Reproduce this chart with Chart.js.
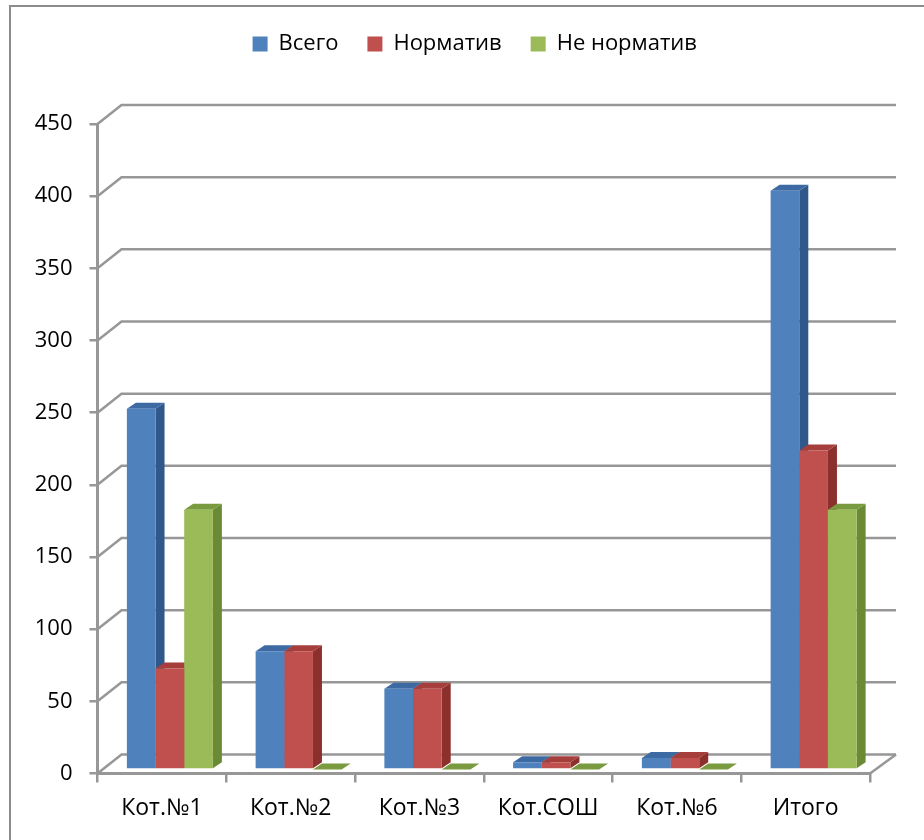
<!DOCTYPE html>
<html>
<head>
<meta charset="utf-8">
<title>Котельные</title>
<script src="https://cdn.jsdelivr.net/npm/chart.js@4"></script>
<style>
  html, body { margin: 0; padding: 0; background: #fff; overflow: hidden; }
  #wrap { position: relative; width: 924px; height: 840px; }
  #frame { position: absolute; left: 9px; top: 5px; width: 2000px; height: 2000px; border: 2px solid #8c8c8c; }
  canvas { position: absolute; left: 0; top: 0; }
</style>
</head>
<body>
<div id="wrap">
  <div id="frame"></div>
  <canvas id="myChart" width="924" height="840"></canvas>
</div>
<script>
// данные по котельным
const kotelnye = ['Кот.№1', 'Кот.№2', 'Кот.№3', 'Кот.СОШ', 'Кот.№6', 'Итого'];
const vsego = [250, 82, 56, 5, 8, 401];
const normativ = [70, 82, 56, 5, 8, 221];
const neNormativ = [180, 0, 0, 0, 0, 180];
const yTicks = [0, 50, 100, 150, 200, 250, 300, 350, 400, 450];

const frontColors = ['#4f81bd', '#c0504d', '#9bbb59'];
const sideColors = ['#30588a', '#8c302d', '#6b8a35'];
const topColors = ['#3d6aa3', '#a63f3c', '#7a9a3f'];

// псевдо-3D: задняя стенка и глубина столбиков
const DX = 24, DY = -19;   // смещение стенки
const BX = 9, BY = -6;     // глубина столбика
const SX = 8, SY = -4;     // столбики стоят чуть глубже переднего края

const fnt = 'Open Sans';

const obyom = {
  id: 'obyom',
  afterLayout(chart) {
    // легенда вверху, над стенкой
    const lg = chart.legend;
    lg.left -= 9;
    lg.right -= 9;
    lg.top = 4;
    lg.bottom = 4 + lg.height;
  },
  beforeDatasetsDraw(chart) {
    const ctx = chart.ctx;
    const a = chart.chartArea;
    const y = chart.scales.y;
    ctx.save();
    ctx.strokeStyle = '#979797';
    ctx.lineWidth = 2.5;
    y.ticks.forEach(t => {
      const py = y.getPixelForValue(t.value);
      ctx.beginPath();
      ctx.moveTo(a.left, py);
      ctx.lineTo(a.left + DX, py + DY);
      ctx.lineTo(a.right + 26, py + DY);
      ctx.stroke();
    });
    ctx.beginPath();
    ctx.moveTo(a.right, a.bottom);
    ctx.lineTo(a.right + 26, a.bottom + DY);
    ctx.stroke();
    ctx.restore();

    // боковые и верхние грани, слева направо
    ctx.save();
    ctx.translate(SX, SY);
    const metas = chart.getSortedVisibleDatasetMetas();
    for (let i = 0; i < kotelnye.length; i++) {
      metas.forEach((m, k) => {
        const b = m.data[i].getProps(['x', 'y', 'base', 'width'], true);
        const x1 = b.x - b.width / 2, x2 = b.x + b.width / 2;
        ctx.fillStyle = sideColors[k];
        ctx.beginPath();
        ctx.moveTo(x2, b.y);
        ctx.lineTo(x2 + BX, b.y + BY);
        ctx.lineTo(x2 + BX, b.base + BY);
        ctx.lineTo(x2, b.base);
        ctx.closePath();
        ctx.fill();
        ctx.fillStyle = topColors[k];
        ctx.beginPath();
        ctx.moveTo(x1, b.y);
        ctx.lineTo(x1 + BX, b.y + BY);
        ctx.lineTo(x2 + BX, b.y + BY);
        ctx.lineTo(x2, b.y);
        ctx.closePath();
        ctx.fill();
      });
    }
  },
  afterDatasetsDraw(chart) {
    chart.ctx.restore();
  }
};

const data = {
  labels: kotelnye,
  datasets: [
    { label: 'Всего', data: vsego, backgroundColor: frontColors[0] },
    { label: 'Норматив', data: normativ, backgroundColor: frontColors[1] },
    { label: 'Не норматив', data: neNormativ, backgroundColor: frontColors[2] }
  ]
};

const config = {
  type: 'bar',
  data: data,
  options: {
    responsive: false,
    animation: false,
    layout: { padding: { left: 0, right: 54, top: 4, bottom: 0 } },
    datasets: { bar: { categoryPercentage: 0.668, barPercentage: 1, borderWidth: 0, clip: false } },
    plugins: {
      tooltip: { enabled: false },
      legend: {
        position: 'top',
        fullSize: false,
        labels: {
          boxWidth: 15,
          boxHeight: 15,
          padding: 29,
          color: '#000',
          font: { family: fnt, size: 22 }
        }
      }
    },
    scales: {
      x: {
        grid: { drawOnChartArea: false, offset: true, tickLength: 9, color: '#979797', lineWidth: 2.5 },
        border: { color: '#979797', width: 3 },
        ticks: { color: '#000', padding: 12, maxRotation: 0, font: { family: fnt, size: 23 } },
        afterFit(s) { s.height = 66.5; }
      },
      y: {
        min: 0,
        max: 450,
        grid: { drawOnChartArea: false, tickLength: 8, color: '#979797', lineWidth: 2.5 },
        border: { color: '#979797', width: 3 },
        afterBuildTicks(s) { s.ticks = yTicks.map(v => ({ value: v })); },
        ticks: { color: '#000', padding: 17, font: { family: fnt, size: 22 } },
        afterFit(s) { s.width = 97.5; s.paddingTop = 124; }
      }
    }
  },
  plugins: [obyom]
};

const myChart = new Chart(document.getElementById('myChart'), config);
</script>
</body>
</html>
